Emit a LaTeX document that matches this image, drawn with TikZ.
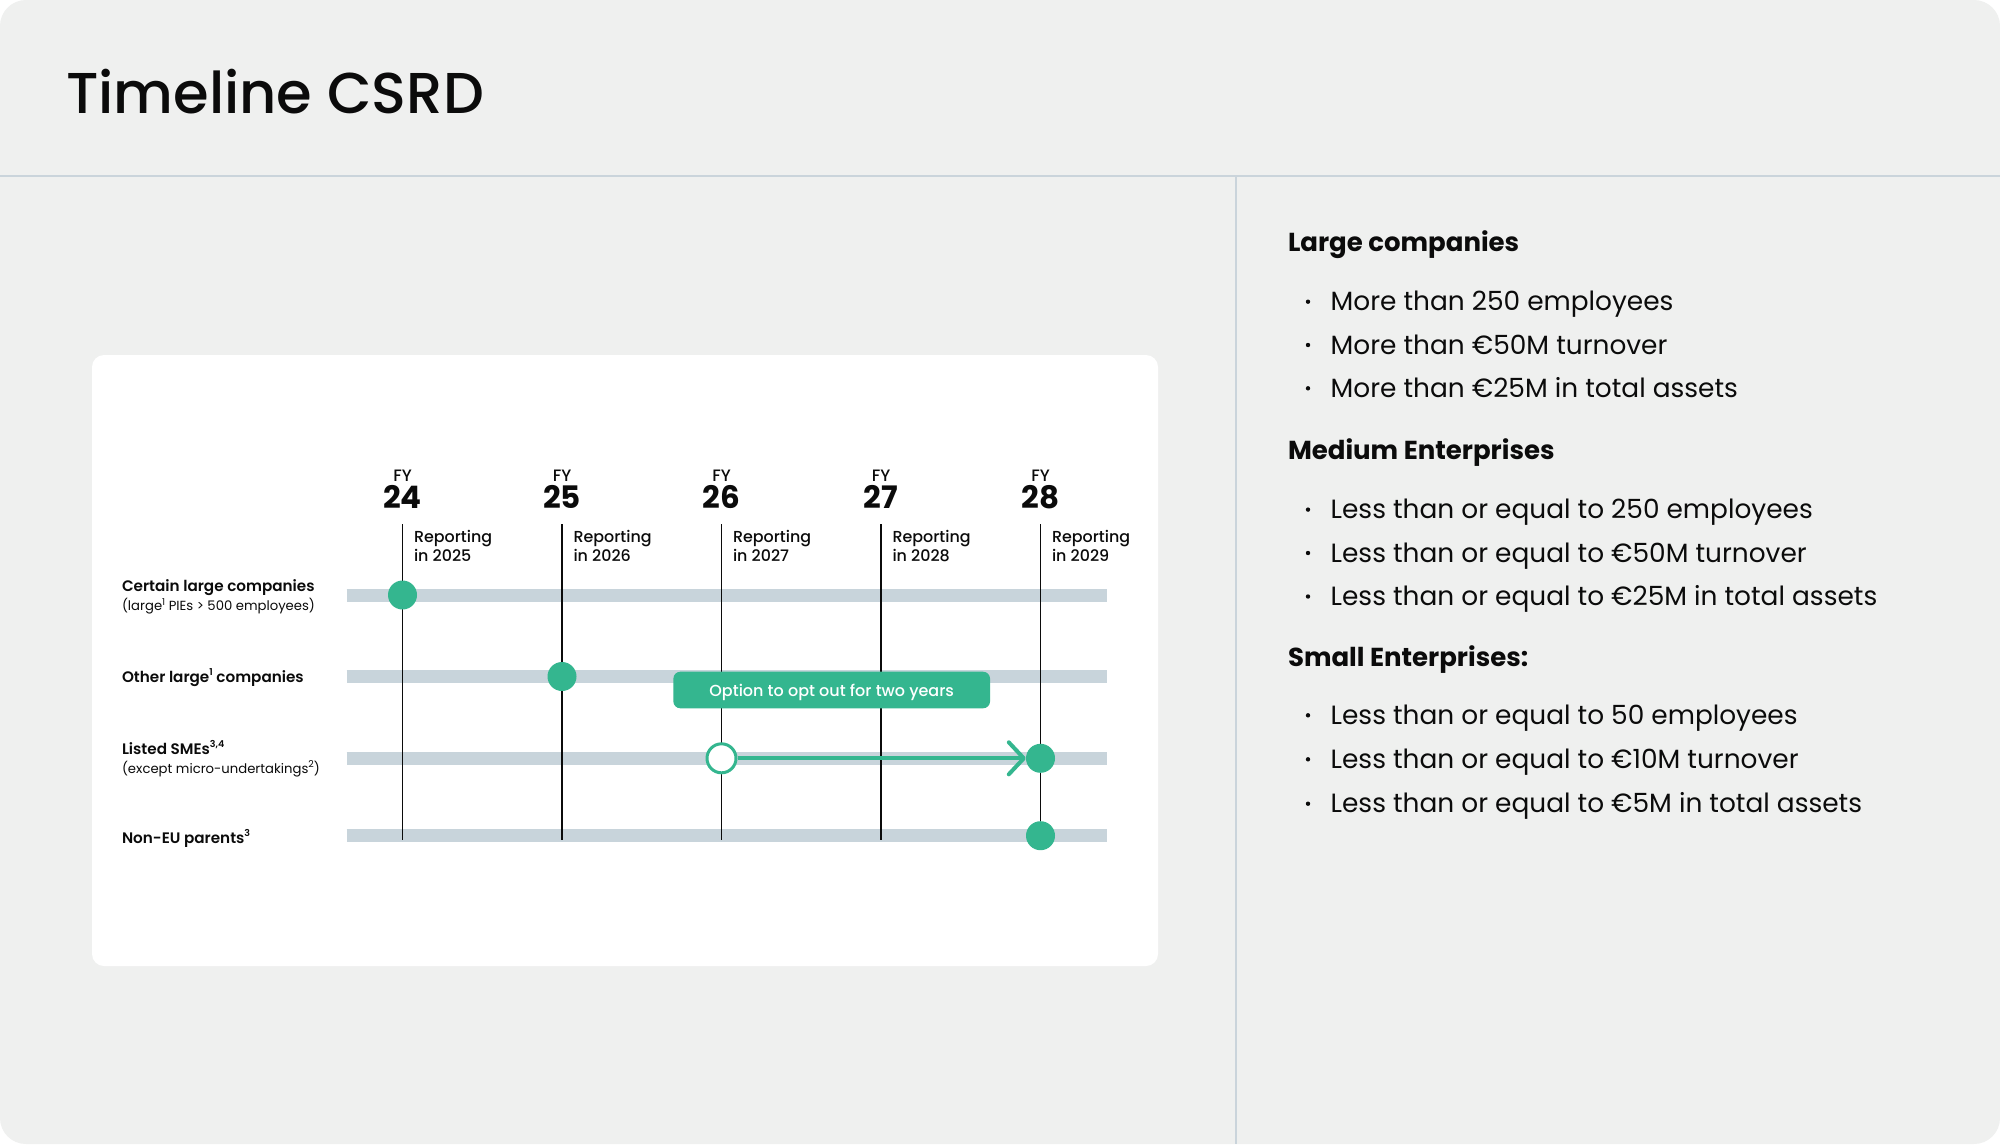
\documentclass[tikz,border=0pt]{standalone}
\usepackage{fontspec}
\setmainfont{Poppins}
\IfFontExistsTF{Poppins Medium}{\newfontfamily\medfont{Poppins Medium}}{\newfontfamily\medfont{Poppins}[FakeBold=0.6]}
\IfFontExistsTF{Poppins SemiBold}{\newfontfamily\semifont{Poppins SemiBold}}{\newfontfamily\semifont{Poppins}[FakeBold=1.2]}
\usetikzlibrary{arrows.meta}
\definecolor{bgc}{HTML}{EFF0EF}
\definecolor{linec}{HTML}{CAD4DB}
\definecolor{barc}{HTML}{C8D4DB}
\definecolor{grn}{HTML}{34B68F}
\definecolor{ink}{HTML}{0B0B0B}
\newcommand\fsz[1]{\fontsize{#1}{#1}\selectfont}
\newcommand\sups[1]{\raisebox{0.42em}{\fontsize{9.5}{9.5}\selectfont #1}}
\begin{document}
\begin{tikzpicture}[x=1pt,y=-1pt,
  txt/.style={inner sep=0pt, outer sep=0pt, text=ink},
  lbl/.style={txt, anchor=base west, font=\semifont\fsz{15.2}},
  sublbl/.style={txt, anchor=base west, font=\fsz{13.2}},
  fylbl/.style={txt, anchor=base, font=\medfont\fsz{16.5}},
  fynum/.style={txt, anchor=base, font=\bfseries\fsz{31}},
  rep/.style={txt, anchor=base west, font=\medfont\fsz{15.9}},
  bar/.style={barc, line width=13pt},
  vline/.style={ink, line width=1.6pt},
  dot/.style={circle, fill=grn, minimum size=29pt, inner sep=0pt},
  opendot/.style={circle, fill=white, draw=grn, line width=3pt, minimum size=29pt, inner sep=0pt},
  optbox/.style={fill=grn, rounded corners=7pt, minimum width=316.7pt, minimum height=36.6pt, text height=12pt, text depth=0pt, inner sep=0pt, text=white, font=\medfont\fsz{16}},
  head/.style={txt, anchor=base west, font=\bfseries\fsz{26}},
  bul/.style={txt, anchor=base west, font=\fsz{26.4}},
]
\useasboundingbox (0,0) rectangle (2000,1144);
\fill[white] (0,0) rectangle (2000,1144);
\fill[bgc, rounded corners=26pt] (0,0) rectangle (2000,1144);
\draw[linec, line width=2pt] (0,175.5) -- (2000,175.5);
\draw[linec, line width=2pt] (1236,175.5) -- (1236,1144);
\node[txt, anchor=base west, font=\medfont\fsz{57.6}] (title) at (66,113.3) {Timeline CSRD};

% card
\fill[white, rounded corners=12pt] (92,355) rectangle (1158,966);

% bars
\foreach \yy/\nn in {595/1, 676.5/2, 758.3/3, 835.7/4}{
  \coordinate (bl\nn) at (346.7,\yy);
  \coordinate (br\nn) at (1107,\yy);
  \draw[bar] (bl\nn) -- (br\nn);
}

% columns
\foreach \xx/\yr/\nn in {402.5/24/1, 562/25/2, 721.5/26/3, 881/27/4, 1040.5/28/5}{
  \node[fylbl] (fy\nn) at (\xx,481.7) {FY};
  \node[fynum] (num\nn) at (\xx,508.3) {\yr};
  \coordinate (vt\nn) at (\xx,524);
  \coordinate (vb\nn) at (\xx,840);
  \draw[vline] (vt\nn) -- (vb\nn);
  \pgfmathtruncatemacro{\ry}{2001+\yr}
  \node[rep] (repa\nn) at (\xx+11.5,542) {Reporting};
  \node[rep] (repb\nn) at (\xx+11.5,561.7) {in \ry};
}

% row labels
\node[lbl] (l1) at (122,591.7) {Certain large companies};
\node[sublbl] (s1) at (122,610.7) {(large\sups{1} PIEs > 500 employees)};
\node[lbl] (l2) at (122,682) {Other large\sups{1} companies};
\node[lbl] (l3) at (122,754) {Listed SMEs\sups{3,4}};
\node[sublbl] (s3) at (122,773) {(except micro-undertakings\sups{2})};
\node[lbl] (l4) at (122,843) {Non-EU parents\sups{3}};

% option box
\node[optbox] (opt) at (831.7,690) {Option to opt out for two years};

% dots
\node[dot] (d1) at (402.5,595) {};
\node[dot] (d2) at (562,676.5) {};
\node[opendot] (o3) at (721.5,758.3) {};
\node[dot] (d3) at (1040.5,758.3) {};
\node[dot] (d4) at (1040.5,835.7) {};
\draw[grn, line width=4pt, -{Straight Barb[length=15pt, width=32pt, round]}] (o3.east) -- (d3.west);

% right panel
\node[head] (h1) at (1288,251) {Large companies};
\node[head] (h2) at (1288,459) {Medium Enterprises};
\node[head] (h3) at (1288,666.7) {Small Enterprises:};
\foreach \yy/\tt/\nn in {
  310.7/{More than 250 employees}/a1,
  354/{More than €50M turnover}/a2,
  397.3/{More than €25M in total assets}/a3,
  518.6/{Less than or equal to 250 employees}/b1,
  562/{Less than or equal to €50M turnover}/b2,
  605.5/{Less than or equal to €25M in total assets}/b3,
  724.3/{Less than or equal to 50 employees}/c1,
  768.3/{Less than or equal to €10M turnover}/c2,
  812.7/{Less than or equal to €5M in total assets}/c3}{
  \fill[ink] (1308,\yy-9) circle (2.2pt);
  \node[bul] (t\nn) at (1330.7,\yy) {\tt};
}
\end{tikzpicture}
\end{document}
